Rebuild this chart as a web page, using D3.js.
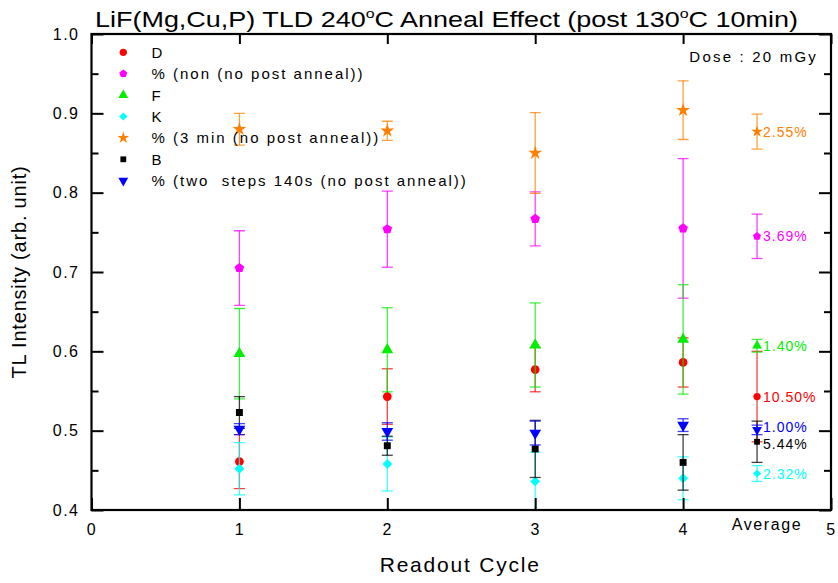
<!DOCTYPE html>
<html>
<head>
<meta charset="utf-8">
<script src="https://cdn.jsdelivr.net/npm/d3@7"></script>
<style>
  html, body { margin: 0; padding: 0; background: #fff; }
  svg { display: block; font-family: "Liberation Sans", Arial, sans-serif; }
</style>
</head>
<body>
<svg id="chart" width="838" height="583"></svg>
<script>
// ---- data ----
const cycles = [1, 2, 3, 4];
const avgX = 4.5;
const seriesNames = ["D", "% (non (no post anneal))", "F", "K", "% (3 min (no post anneal))", "B", "% (two  steps 140s (no post anneal))"];
const seriesColors = ["#ff0000", "#ff00ff", "#00ee00", "#00ffff", "#ff8000", "#000000", "#0000ff"];
const seriesShapes = ["circle", "pentagon", "triangle", "diamond", "star", "square", "triangleDown"];

const valD   = [0.461, 0.543, 0.577, 0.586];
const errD   = [0.034, 0.035, 0.028, 0.031];
const valNon = [0.705, 0.754, 0.767, 0.755];
const errNon = [0.047, 0.048, 0.034, 0.088];
const valF   = [0.597, 0.602, 0.608, 0.615];
const errF   = [0.057, 0.053, 0.053, 0.069];
const valK   = [0.452, 0.458, 0.436, 0.440];
const errK   = [0.033, 0.034, 0.037, 0.027];
const val3m  = [0.880, 0.878, 0.850, 0.904];
const err3m  = [0.020, 0.012, 0.051, 0.037];
const valB   = [0.523, 0.481, 0.477, 0.460];
const errB   = [0.020, 0.012, 0.036, 0.035];
const valTwo = [0.502, 0.499, 0.497, 0.507];
const errTwo = [0.007, 0.011, 0.015, 0.008];

const avgVals   = [0.543, 0.745, 0.607, 0.446, 0.877, 0.486, 0.501];
const avgErrs   = [0.057, 0.028, 0.008, 0.010, 0.022, 0.026, 0.006];
const avgLabels = ["10.50%", "3.69%", "1.40%", "2.32%", "2.55%", "5.44%", "1.00%"];

const xTicks = [0, 1, 2, 3, 4, 5];
const yTicks = [0.4, 0.5, 0.6, 0.7, 0.8, 0.9, 1.0];
const yMinor = [0.45, 0.55, 0.65, 0.75, 0.85, 0.95];

const allVals = [valD, valNon, valF, valK, val3m, valB, valTwo];
const allErrs = [errD, errNon, errF, errK, err3m, errB, errTwo];

// ---- layout ----
const svg = d3.select("#chart");
const L = 91.5, R = 831, T = 34, B = 510;
const x = d3.scaleLinear().domain([0, 5]).range([L, R]);
const y = d3.scaleLinear().domain([0.4, 1.0]).range([B, T]);

svg.append("defs").append("clipPath").attr("id", "plotclip")
  .append("rect").attr("x", L).attr("y", T).attr("width", R - L).attr("height", B - T);

// symbol generators
function pentagonPath(size) {
  const r = Math.sqrt(size / 2.378);
  let p = "";
  for (let i = 0; i < 5; i++) {
    const a = -Math.PI / 2 + i * 2 * Math.PI / 5;
    p += (i ? "L" : "M") + (r * Math.cos(a)).toFixed(2) + "," + (r * Math.sin(a)).toFixed(2);
  }
  return p + "Z";
}
function shapePath(shape, size) {
  switch (shape) {
    case "circle": return d3.symbol(d3.symbolCircle, size)();
    case "pentagon": return pentagonPath(size);
    case "triangle": return d3.symbol(d3.symbolTriangle, size)();
    case "triangleDown": return d3.symbol(d3.symbolTriangle, size)();
    case "diamond": return d3.symbol(d3.symbolSquare, size * 0.8)();
    case "star": return d3.symbol(d3.symbolStar, size)();
    case "square": return d3.symbol(d3.symbolSquare, size * 0.8)();
  }
}
function shapeTransform(shape, cx, cy) {
  if (shape === "triangleDown") return `translate(${cx},${cy}) rotate(180)`;
  if (shape === "diamond") return `translate(${cx},${cy}) rotate(45)`;
  return `translate(${cx},${cy})`;
}

// ---- data marks ----
const plot = svg.append("g").attr("clip-path", "url(#plotclip)");
const capW = 5.5;
seriesNames.forEach((name, si) => {
  const color = seriesColors[si];
  const pts = cycles.map((c, i) => ({ xv: c, v: allVals[si][i], e: allErrs[si][i] }));
  pts.push({ xv: avgX, v: avgVals[si], e: avgErrs[si] });
  const g = plot.append("g");
  const eb = g.selectAll("g.eb").data(pts).join("g").attr("class", "eb")
    .attr("stroke", color).attr("stroke-width", 1.3).attr("stroke-opacity", 0.75);
  eb.append("line")
    .attr("x1", d => x(d.xv)).attr("x2", d => x(d.xv))
    .attr("y1", d => y(d.v + d.e)).attr("y2", d => y(d.v - d.e));
  eb.append("line")
    .attr("x1", d => x(d.xv) - capW).attr("x2", d => x(d.xv) + capW)
    .attr("y1", d => y(d.v + d.e)).attr("y2", d => y(d.v + d.e));
  eb.append("line")
    .attr("x1", d => x(d.xv) - capW).attr("x2", d => x(d.xv) + capW)
    .attr("y1", d => y(d.v - d.e)).attr("y2", d => y(d.v - d.e));
  g.selectAll("path.mk").data(pts).join("path").attr("class", "mk")
    .attr("d", d => shapePath(seriesShapes[si], d.xv === avgX ? 42 : 60))
    .attr("transform", d => shapeTransform(seriesShapes[si], x(d.xv), y(d.v)))
    .attr("fill", color);
});

// average labels (the two closest labels are nudged apart slightly)
const labelNudge = [0, 0, 0, 0, 0, 2.5, -2.5];
svg.append("g").selectAll("text").data(avgLabels).join("text")
  .attr("x", x(avgX) + 6)
  .attr("y", (d, i) => y(avgVals[i]) + labelNudge[i])
  .attr("dy", "0.36em")
  .attr("fill", (d, i) => seriesColors[i])
  .attr("font-size", 14)
  .attr("letter-spacing", 1)
  .text(d => d);

// ---- frame & axes ----
const axG = svg.append("g");
const yAxL = d3.axisLeft(y).tickValues(yTicks).tickSize(-12).tickPadding(12).tickFormat(d3.format(".1f"));
const yAxLm = d3.axisLeft(y).tickValues(yMinor).tickSize(-7).tickFormat("");
const yAxR = d3.axisRight(y).tickValues(yTicks).tickSize(-12).tickFormat("");
const yAxRm = d3.axisRight(y).tickValues(yMinor).tickSize(-7).tickFormat("");
const xAxB = d3.axisBottom(x).tickValues(xTicks).tickSize(-12).tickPadding(14).tickFormat(d3.format("d"));
const xAxT = d3.axisTop(x).tickValues(xTicks).tickSize(-10).tickFormat("");

function styleAxis(sel) {
  sel.select(".domain").remove();
  sel.selectAll(".tick line").attr("stroke", "#000").attr("stroke-width", 2);
  sel.selectAll(".tick text").attr("font-size", 16).attr("letter-spacing", 1.5).attr("fill", "#000")
    .attr("font-family", "'Liberation Sans', Arial, sans-serif");
}
axG.append("g").attr("transform", `translate(${L},0)`).call(yAxL).call(styleAxis);
axG.append("g").attr("transform", `translate(${L},0)`).call(yAxLm).call(styleAxis);
axG.append("g").attr("transform", `translate(${R},0)`).call(yAxR).call(styleAxis);
axG.append("g").attr("transform", `translate(${R},0)`).call(yAxRm).call(styleAxis);
axG.append("g").attr("transform", `translate(0,${B})`).call(xAxB).call(styleAxis);
axG.append("g").attr("transform", `translate(0,${T})`).call(xAxT).call(styleAxis);

svg.append("rect").attr("x", L).attr("y", T).attr("width", R - L).attr("height", B - T)
  .attr("fill", "none").attr("stroke", "#000").attr("stroke-width", 2.2);

// "Average" label
svg.append("text").attr("x", 767).attr("y", B + 20).attr("text-anchor", "middle")
  .attr("font-size", 16).attr("letter-spacing", 1.6).text("Average");

// axis titles
svg.append("text").attr("x", (L + R) / 2 - 1).attr("y", B + 62).attr("text-anchor", "middle")
  .attr("font-size", 21).attr("letter-spacing", 1.8).text("Readout Cycle");
svg.append("text").attr("transform", `translate(26,${(T + B) / 2}) rotate(-90)`)
  .attr("text-anchor", "middle").attr("font-size", 20).attr("letter-spacing", 0.8)
  .text("TL Intensity (arb. unit)");

// title
const title = svg.append("text").attr("x", 95).attr("y", 27).attr("font-size", 22)
  .attr("font-family", "'Liberation Sans Narrow', 'Liberation Sans', Arial, sans-serif")
  .attr("textLength", 703).attr("lengthAdjust", "spacingAndGlyphs");
title.append("tspan").text("LiF(Mg,Cu,P) TLD 240");
title.append("tspan").attr("font-size", 13).attr("dy", -9).text("o");
title.append("tspan").attr("dy", 9).text("C Anneal Effect (post 130");
title.append("tspan").attr("font-size", 13).attr("dy", -9).text("o");
title.append("tspan").attr("dy", 9).text("C 10min)");

// dose
svg.append("text").attr("x", 818).attr("y", 62).attr("text-anchor", "end")
  .attr("font-size", 15).attr("letter-spacing", 2.2).text("Dose : 20 mGy");

// legend
const legX = 123.3, legY0 = 52.3, legDy = 21.4;
const leg = svg.append("g");
seriesNames.forEach((name, i) => {
  leg.append("path").attr("d", shapePath(seriesShapes[i], 42))
    .attr("transform", shapeTransform(seriesShapes[i], legX, legY0 + i * legDy))
    .attr("fill", seriesColors[i]);
  leg.append("text").attr("x", 151.5).attr("y", legY0 + i * legDy).attr("dy", "0.36em")
    .attr("font-size", 15).attr("letter-spacing", 2).attr("xml:space", "preserve")
    .style("white-space", "pre").text(name);
});
</script>
</body>
</html>
